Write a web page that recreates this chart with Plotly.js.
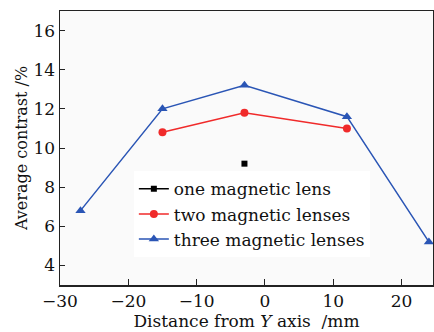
<!DOCTYPE html>
<html><head><meta charset="utf-8">
<script src="https://cdn.plot.ly/plotly-3.0.1.min.js"></script>
<style>html,body{margin:0;padding:0;background:#fff}#c{width:434px;height:332px}</style>
</head><body><div id="c"></div>
<script>
const oneX = [-3];
const oneY = [9.2];
const twoX = [-15, -3, 12];
const twoY = [10.8, 11.8, 11.0];
const threeX = [-27, -15, -3, 12, 24];
const threeY = [6.8, 12.0, 13.2, 11.6, 5.2];
const names = ['one magnetic lens', 'two magnetic lenses', 'three magnetic lenses'];

const F = 'DejaVu Serif, Liberation Serif, serif';
const traces = [
  {x: oneX, y: oneY, name: names[0], mode: 'lines+markers', line: {color: '#000', width: 1.5}, marker: {symbol: 'square', size: 6, color: '#000'}},
  {x: twoX, y: twoY, name: names[1], mode: 'lines+markers', line: {color: '#f02a2a', width: 1.5}, marker: {symbol: 'circle', size: 8, color: '#f02a2a'}},
  {x: threeX, y: threeY, name: names[2], mode: 'lines+markers', line: {color: '#2a55b5', width: 1.5}, marker: {symbol: 'triangle-up', size: 9, color: '#2a55b5'}}
];
const layout = {
  width: 434, height: 332,
  margin: {l: 60, r: 1, t: 11, b: 47},
  paper_bgcolor: '#fff', plot_bgcolor: '#fafafa',
  font: {family: F, size: 17, color: '#111'},
  showlegend: true,
  legend: {x: 0.198, y: 0.415, xanchor: 'left', yanchor: 'top', bgcolor: 'rgba(255,255,255,0.95)', font: {family: F, size: 17, color: '#111'}, tracegroupgap: 0},
  xaxis: {range: [-30, 24.6], tickvals: [-30, -20, -10, 0, 10, 20], ticks: 'inside', ticklen: 6, tickcolor: '#222', showgrid: false, zeroline: false,
    showline: true, linecolor: '#222', linewidth: 1.5, mirror: true,
    title: {text: 'Distance from <i>Y</i> axis  /mm', font: {family: F, size: 17}, standoff: 1}, tickfont: {family: F, size: 17}},
  yaxis: {range: [3, 17], tickvals: [4, 6, 8, 10, 12, 14, 16], ticks: 'inside', ticklen: 5, tickcolor: '#222', showgrid: false, zeroline: false,
    showline: true, linecolor: '#222', linewidth: 1.5, mirror: true,
    title: {text: 'Average contrast /%', font: {family: F, size: 16}, standoff: 2}, tickfont: {family: F, size: 17}}
};
Plotly.newPlot('c', traces, layout, {displayModeBar: false, staticPlot: true});
</script></body></html>
